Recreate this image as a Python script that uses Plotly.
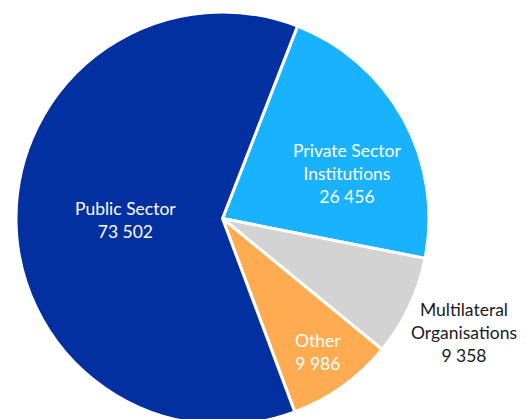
import math
import plotly.graph_objects as go

labels = ["Private Sector<br>Institutions", "Multilateral<br>Organisations", "Other", "Public Sector"]
values = [26456, 9358, 9986, 73502]
value_text = ["26 456", "9 358", "9 986", "73 502"]
colors = ["#19B2FF", "#D3D3D3", "#FFAB52", "#0230A0"]
text_colors = ["white", "#1a1a1a", "white", "white"]
# label placement per slice: (radius factor, angle offset in degrees)
label_pos = [(0.65, 7.0), (1.30, 0.5), (0.81, 0.8), (0.47, 0.0)]

ROT = 21.3
W, H = 531, 432
MT, MB = 12, 7
R = (H - MT - MB) / 2
CX = 222.5
CY = MT + R

fig = go.Figure(go.Pie(
    labels=labels,
    values=values,
    textinfo="none",
    sort=False,
    direction="clockwise",
    rotation=ROT,
    marker=dict(colors=colors, line=dict(color="white", width=3)),
    hoverinfo="label+value",
    showlegend=False,
    domain=dict(x=[(CX - R) / W, (CX + R) / W], y=[0, 1]),
))

total = sum(values)
acc = 0
for l, v, vt, tc, (rf, off) in zip(labels, values, value_text, text_colors, label_pos):
    mid = ROT + 360 * (acc + v / 2) / total + off
    acc += v
    a = math.radians(mid)
    px = CX + rf * R * math.sin(a)
    py = CY - rf * R * math.cos(a)
    fig.add_annotation(
        x=px / W, y=1 - py / H, xref="paper", yref="paper",
        text=f"{l}<br>{vt}", showarrow=False,
        font=dict(family="Lato", size=17.5, color=tc),
        xanchor="center", yanchor="middle",
    )

fig.update_layout(
    width=W, height=H,
    margin=dict(l=0, r=0, t=MT, b=MB),
    paper_bgcolor="white",
    plot_bgcolor="white",
)

fig.write_html(
    "out.html",
    config={"displayModeBar": False},
    post_script="document.body.style.margin='0';document.body.style.overflow='hidden';document.documentElement.style.overflow='hidden';",
)
